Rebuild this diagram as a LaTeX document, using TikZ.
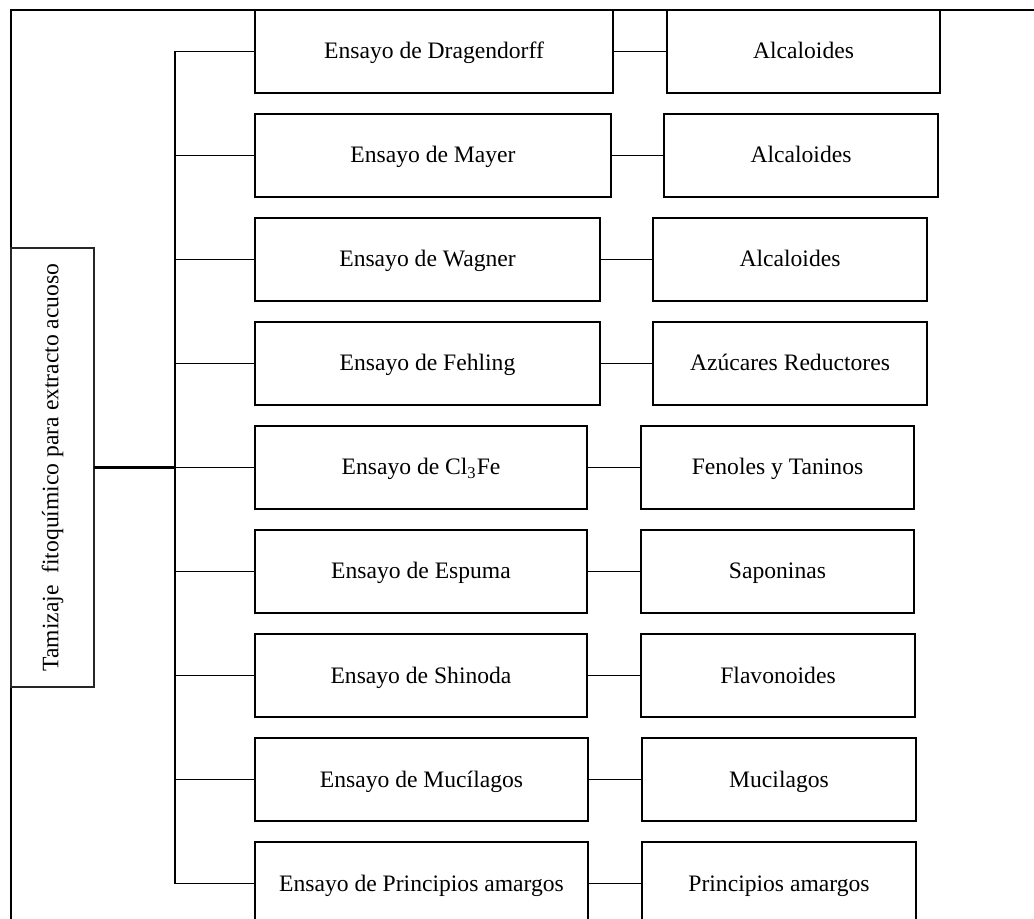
\documentclass[tikz,border=0pt]{standalone}
\usepackage{fontspec}
\setmainfont{Liberation Serif}
\usepackage{tikz}
\tikzset{
  testbox/.style={draw=black, line width=0.85pt, minimum height=41.5pt, inner sep=0pt, outer sep=0pt, anchor=west, text height=10pt, text depth=2.5pt, font=\fontsize{11.8pt}{14pt}\selectfont},
  resbox/.style={testbox},
  rootbox/.style={draw=black!85, line width=0.7pt, minimum width=41.5pt, minimum height=219.5pt, inner sep=0pt, outer sep=0pt},
  link/.style={draw=black, line width=0.65pt},
  trunkline/.style={draw=black, line width=1.05pt},
  mainline/.style={draw=black, line width=1.4pt},
  frame/.style={draw=black, line width=0.6pt},
}

\begin{document}
\begin{tikzpicture}[x=0.5pt, y=-0.5pt]
  \useasboundingbox (0,0) rectangle (1034,919);
  \clip (0,0) rectangle (1034,919);
  \draw[frame] (11,919) -- (11,10) -- (1034,10);

  % root
  \node[rootbox] (root) at (52.5,467.5) {\rotatebox{90}{\fontsize{11.8pt}{14pt}\selectfont Tamizaje\ \ fitoquímico para extracto acuoso}};
  \coordinate (trunk) at (175,467.5);

  % ensayos
  \node[testbox, minimum width=179pt]   (t1) at (255,51.5)  {Ensayo de Dragendorff};
  \node[testbox, minimum width=178pt]   (t2) at (255,155.5) {Ensayo de Mayer};
  \node[testbox, minimum width=172.5pt] (t3) at (255,259.5) {Ensayo de Wagner};
  \node[testbox, minimum width=172.5pt] (t4) at (255,363.5) {Ensayo de Fehling};
  \node[testbox, minimum width=166pt]   (t5) at (255,467.5) {Ensayo de Cl\textsubscript{3}Fe};
  \node[testbox, minimum width=166pt]   (t6) at (255,571.5) {Ensayo de Espuma};
  \node[testbox, minimum width=166pt]   (t7) at (255,675.5) {Ensayo de Shinoda};
  \node[testbox, minimum width=166.5pt] (t8) at (255,779.5) {Ensayo de Mucílagos};
  \node[testbox, minimum width=166.5pt] (t9) at (255,883.5) {Ensayo de Principios amargos};

  % resultados
  \node[resbox, minimum width=136.5pt] (r1) at (667,51.5)  {Alcaloides};
  \node[resbox, minimum width=137pt]   (r2) at (664,155.5) {Alcaloides};
  \node[resbox, minimum width=137pt]   (r3) at (653,259.5) {Alcaloides};
  \node[resbox, minimum width=137pt]   (r4) at (653,363.5) {Azúcares Reductores};
  \node[resbox, minimum width=136.5pt] (r5) at (641,467.5) {Fenoles y Taninos};
  \node[resbox, minimum width=136.5pt] (r6) at (641,571.5) {Saponinas};
  \node[resbox, minimum width=137pt]   (r7) at (641,675.5) {Flavonoides};
  \node[resbox, minimum width=137pt]   (r8) at (642,779.5) {Mucilagos};
  \node[resbox, minimum width=137pt]   (r9) at (642,883.5) {Principios amargos};

  % connectors
  \draw[mainline] (root.east) -- (trunk);
  \draw[trunkline] (trunk |- t1.west) -- (trunk |- t9.west);
  \foreach \i in {1,...,9} {
    \draw[link] (trunk |- t\i.west) -- (t\i.west);
    \draw[link] (t\i.east) -- (r\i.west);
  }
\end{tikzpicture}
\end{document}
